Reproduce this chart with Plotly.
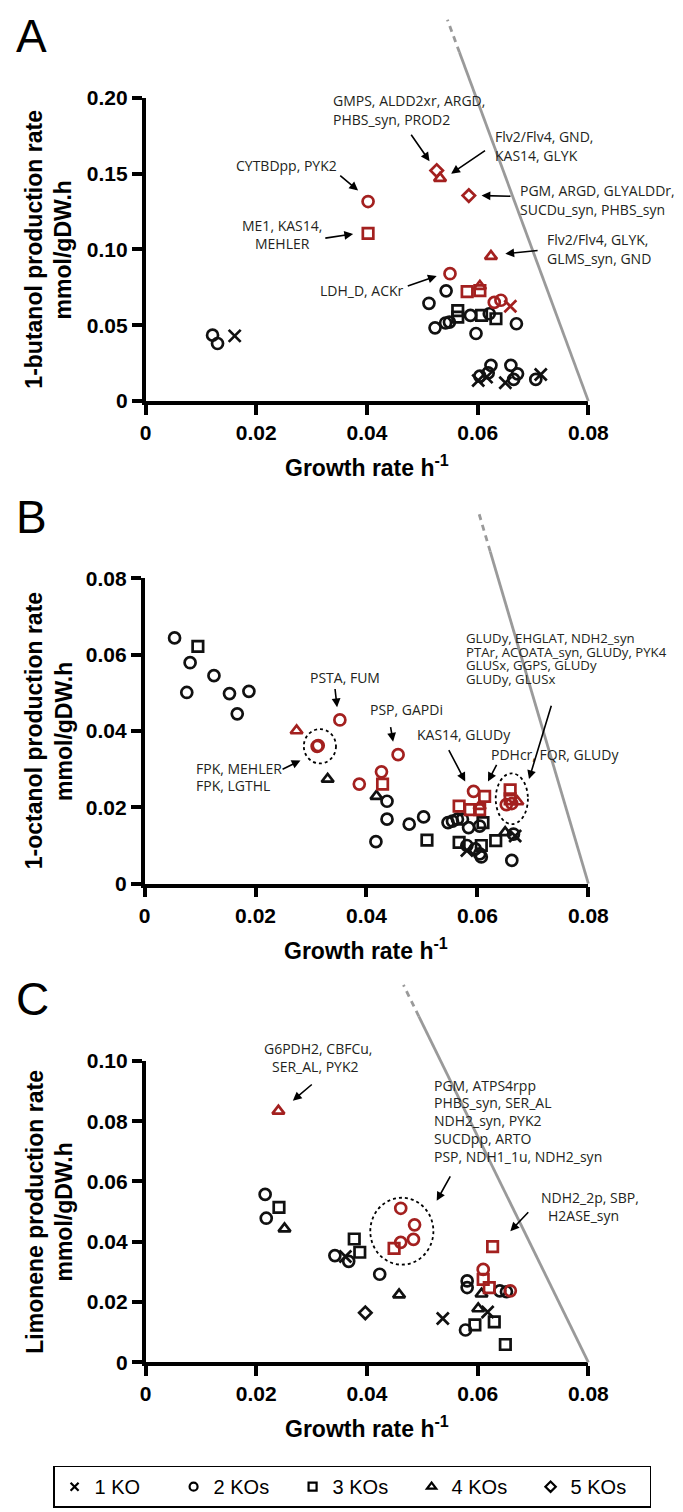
import plotly.graph_objects as go

# ---------------- data ----------------
# Panel A: 1-butanol
butanol_growth = [0.0526, 0.0532, 0.0402, 0.0584, 0.0402, 0.0624, 0.0550, 0.0581, 0.0604, 0.0604, 0.0630, 0.0642, 0.0659,
                  0.0121, 0.0130, 0.0161, 0.0543, 0.0512, 0.0523, 0.0542, 0.0564, 0.0564, 0.0587, 0.0597, 0.0607,
                  0.0621, 0.0633, 0.0670, 0.0624, 0.0660, 0.0619, 0.0604, 0.0601, 0.0672, 0.0665, 0.0650, 0.0705,
                  0.0714, 0.0616, 0.0549]
butanol_rate = [0.152, 0.147, 0.1316, 0.1355, 0.1106, 0.0955, 0.0840, 0.0722, 0.0758, 0.0728, 0.0651, 0.0665, 0.0625,
                0.0435, 0.0380, 0.0430, 0.0727, 0.0645, 0.0483, 0.0515, 0.0597, 0.0554, 0.0565, 0.0446, 0.0565,
                0.0576, 0.0543, 0.0510, 0.0236, 0.0236, 0.0186, 0.0165, 0.0136, 0.0180, 0.0143, 0.0121, 0.0143,
                0.0175, 0.0158, 0.0521]
butanol_kos = [5, 4, 2, 5, 3, 4, 2, 3, 4, 3, 2, 2, 1,
               2, 2, 1, 2, 2, 2, 2, 3, 3, 2, 2, 3,
               2, 3, 2, 2, 2, 2, 2, 1, 2, 2, 1, 2,
               1, 1, 2]
butanol_red = [1] * 13 + [0] * 27

# Panel B: 1-octanol
octanol_growth = [0.0054, 0.0096, 0.0082, 0.0125, 0.0076, 0.0153, 0.0188, 0.0167,
                  0.0330, 0.0418, 0.0437, 0.0437, 0.0417, 0.0477, 0.0503, 0.0509,
                  0.0547, 0.0555, 0.0564, 0.0573, 0.0584, 0.0604, 0.0610,
                  0.0567, 0.0607, 0.0581, 0.0596, 0.0604, 0.0607, 0.0581,
                  0.0633, 0.0650, 0.0665, 0.0668, 0.0662,
                  0.0274, 0.0313, 0.0311, 0.0352, 0.0457, 0.0427, 0.0429, 0.0387,
                  0.0593, 0.0613, 0.0567, 0.0587, 0.0604, 0.0604,
                  0.0659, 0.0659, 0.0652, 0.0662, 0.0672]
octanol_rate = [0.0644, 0.0622, 0.0579, 0.0545, 0.0501, 0.0498, 0.0504, 0.0445,
                0.0274, 0.0229, 0.0216, 0.0169, 0.0110, 0.0156, 0.0175, 0.0114,
                0.0160, 0.0164, 0.0169, 0.0169, 0.0147, 0.0151, 0.0160,
                0.0108, 0.0100, 0.0100, 0.0091, 0.0078, 0.0070, 0.0087,
                0.0113, 0.0134, 0.0130, 0.0125, 0.0061,
                0.0401, 0.0362, 0.0360, 0.0429, 0.0338, 0.0293, 0.0261, 0.0261,
                0.0242, 0.0229, 0.0203, 0.0194, 0.0194, 0.0203,
                0.0246, 0.0222, 0.0207, 0.0210, 0.0215]
octanol_kos = [2, 3, 2, 2, 2, 2, 2, 2,
               4, 4, 2, 2, 2, 2, 2, 3,
               2, 2, 2, 2, 2, 2, 3,
               3, 3, 2, 2, 2, 2, 1,
               3, 4, 2, 1, 2,
               4, 2, 2, 2, 2, 2, 3, 2,
               2, 3, 3, 3, 3, 4,
               3, 3, 2, 2, 4]
octanol_red = [0] * 35 + [1] * 19

# Panel C: limonene
limonene_growth = [0.0240, 0.0461, 0.0486, 0.0484, 0.0461, 0.0449,
                   0.0627, 0.0610, 0.0610, 0.0621, 0.0659,
                   0.0216, 0.0218, 0.0241, 0.0251, 0.0377, 0.0387, 0.0342, 0.0367, 0.0361, 0.0423, 0.0458, 0.0397,
                   0.0581, 0.0581, 0.0640, 0.0652, 0.0607, 0.0601, 0.0618, 0.0537, 0.0578, 0.0595, 0.0630, 0.0650]
limonene_rate = [0.0834, 0.0511, 0.0456, 0.0408, 0.0398, 0.0378,
                 0.0384, 0.0308, 0.0275, 0.0248, 0.0237,
                 0.0557, 0.0478, 0.0514, 0.0443, 0.0409, 0.0365, 0.0354, 0.0335, 0.0351, 0.0292, 0.0224, 0.0164,
                 0.0270, 0.0248, 0.0237, 0.0234, 0.0227, 0.0178, 0.0167, 0.0145, 0.0107, 0.0124, 0.0134, 0.0059]
limonene_kos = [4, 2, 2, 2, 2, 3,
                3, 2, 3, 3, 2,
                2, 2, 3, 4, 3, 3, 2, 2, 1, 2, 4, 5,
                2, 2, 2, 2, 4, 4, 1, 1, 2, 3, 3, 3]
limonene_red = [1] * 11 + [0] * 24

# theoretical limit lines: (growth at zero production, production at zero growth)
limit_growth_max = 0.08
limit_intercepts = {"A": 0.79, "B": 0.3935, "C": 0.2998}

x_ticks = [0, 0.02, 0.04, 0.06, 0.08]
x_ticklabels = ["0", "0.02", "0.04", "0.06", "0.08"]
yA_ticks = [0, 0.05, 0.10, 0.15, 0.20]
yA_labels = ["0", "0.05", "0.10", "0.15", "0.20"]
yB_ticks = [0, 0.02, 0.04, 0.06, 0.08]
yB_labels = ["0", "0.02", "0.04", "0.06", "0.08"]
yC_ticks = [0, 0.02, 0.04, 0.06, 0.08, 0.10]
yC_labels = ["0", "0.02", "0.04", "0.06", "0.08", "0.10"]

ko_names = ["1 KO", "2 KOs", "3 KOs", "4 KOs", "5 KOs"]

# labels (growth, rate, text, anchor, font size)
labels_A = [
    (0.0335, 0.1982, "GMPS, ALDD2xr, ARGD,", "left", 14),
    (0.0335, 0.1859, "PHBS_syn, PROD2", "left", 14),
    (0.0627, 0.1745, "Flv2/Flv4, GND,", "left", 14),
    (0.0627, 0.1621, "KAS14, GLYK", "left", 14),
    (0.0160, 0.1556, "CYTBDpp, PYK2", "left", 14),
    (0.0673, 0.1388, "PGM, ARGD, GLYALDDr,", "left", 14),
    (0.0673, 0.1262, "SUCDu_syn, PHBS_syn", "left", 14),
    (0.0247, 0.1160, "ME1, KAS14,", "center", 14),
    (0.0247, 0.1041, "MEHLER", "center", 14),
    (0.0722, 0.1063, "Flv2/Flv4, GLYK,", "left", 14),
    (0.0722, 0.0940, "GLMS_syn, GND", "left", 14),
    (0.0312, 0.0732, "LDH_D, ACKr", "left", 14),
]
arrows_A = [
    (0.0478, 0.1766, 0.0513, 0.1582),
    (0.0616, 0.1658, 0.0552, 0.1500),
    (0.0349, 0.1495, 0.0384, 0.1388),
    (0.0662, 0.1351, 0.0607, 0.1355),
    (0.0322, 0.1073, 0.0375, 0.1102),
    (0.0711, 0.0994, 0.0650, 0.0972),
    (0.0471, 0.0755, 0.0526, 0.0825),
]
labels_B = [
    (0.0362, 0.0540, "PSTA, FUM", "center", 14),
    (0.0402, 0.0457, "PSP, GAPDi", "left", 14),
    (0.0089, 0.0302, "FPK, MEHLER", "left", 14),
    (0.0089, 0.0256, "FPK, LGTHL", "left", 14),
    (0.0488, 0.0392, "KAS14, GLUDy", "left", 14),
    (0.0620, 0.0339, "PDHcr, FQR, GLUDy", "left", 14),
    (0.0576, 0.0643, "GLUDy, EHGLAT, NDH2_syn", "left", 13.2),
    (0.0576, 0.0607, "PTAr, ACOATA_syn, GLUDy, PYK4", "left", 13.2),
    (0.0576, 0.0573, "GLUSx, GGPS, GLUDy", "left", 13.2),
    (0.0576, 0.0537, "GLUDy, GLUSx", "left", 13.2),
]
arrows_B = [
    (0.0343, 0.0514, 0.0347, 0.0462),
    (0.0443, 0.0414, 0.0448, 0.0372),
    (0.0246, 0.0298, 0.0281, 0.0323),
    (0.0547, 0.0354, 0.0578, 0.0268),
    (0.0636, 0.0315, 0.0619, 0.0268),
    (0.0734, 0.0470, 0.0693, 0.0274),
]
circles_B = [(0.0287, 0.0345, 0.0315, 0.0405), (0.0633, 0.0691, 0.0156, 0.0289)]
labels_C = [
    (0.0312, 0.1040, "G6PDH2, CBFCu,", "center", 14),
    (0.0306, 0.0980, "SER_AL, PYK2", "center", 14),
    (0.0517, 0.0920, "PGM, ATPS4rpp", "left", 14),
    (0.0517, 0.0861, "PHBS_syn, SER_AL", "left", 14),
    (0.0517, 0.0801, "NDH2_syn, PYK2", "left", 14),
    (0.0517, 0.0744, "SUCDpp, ARTO", "left", 14),
    (0.0517, 0.0684, "PSP, NDH1_1u, NDH2_syn", "left", 14),
    (0.0710, 0.0546, "NDH2_2p, SBP,", "left", 14),
    (0.0723, 0.0487, "H2ASE_syn", "left", 14),
]
arrows_C = [
    (0.0303, 0.0926, 0.0266, 0.0868),
    (0.0552, 0.0622, 0.0526, 0.0536),
    (0.0694, 0.0503, 0.0659, 0.0435),
]
circles_C = [(0.0406, 0.0520, 0.0324, 0.0546)]

# ---------------- layout / styling ----------------
W, H = 683, 1512
RED = "#A3201F"
BLACK = "#111111"
GRAY = "#9a9a9a"
SYMBOLS = {1: "x-thin-open", 2: "circle-open", 3: "square-open", 4: "triangle-up-open", 5: "diamond-open"}
SIZES = {1: 12, 2: 11, 3: 10.5, 4: 10.5, 5: 9.5}
AXIS_FONT = "Liberation Sans, Arial, sans-serif"
NOTE_FONT = "Open Sans, sans-serif"

# pixel boxes of the three plot areas (left, right, top, bottom)
panels = {
    "A": dict(ax="", box=(137, 598, 79, 387), yr=[0, 0.20], yt=yA_ticks, yl=yA_labels,
              title="1-butanol production rate",
              data=(butanol_growth, butanol_rate, butanol_kos, butanol_red),
              labels=labels_A, arrows=arrows_A, circles=[], solid_top=0.2300, dash_top=0.2515),
    "B": dict(ax="2", box=(136, 598, 567, 877), yr=[0, 0.08], yt=yB_ticks, yl=yB_labels,
              title="1-octanol production rate",
              data=(octanol_growth, octanol_rate, octanol_kos, octanol_red),
              labels=labels_B, arrows=arrows_B, circles=circles_B, solid_top=0.087, dash_top=0.098),
    "C": dict(ax="3", box=(137, 598, 1057, 1363), yr=[0, 0.10], yt=yC_ticks, yl=yC_labels,
              title="Limonene production rate",
              data=(limonene_growth, limonene_rate, limonene_kos, limonene_red),
              labels=labels_C, arrows=arrows_C, circles=circles_C, solid_top=0.1148, dash_top=0.1252),
}
XR = [0, 0.08]

fig = go.Figure()
shapes, annotations = [], []

for key, p in panels.items():
    a = p["ax"]
    xa, ya = "x" + a, "y" + a
    l, r, t, b = p["box"]
    yr = p["yr"]
    fig.update_layout(**{
        "xaxis" + a: dict(domain=[l / W, r / W], range=XR, anchor=ya, tickvals=x_ticks, ticktext=x_ticklabels,
                          showline=True, linecolor="black", linewidth=3.5, ticks="outside", ticklen=10,
                          tickwidth=3.5, tickcolor="black", showgrid=False, zeroline=False,
                          tickfont=dict(family=AXIS_FONT, size=21, color="black", weight="bold")),
        "yaxis" + a: dict(domain=[1 - b / H, 1 - t / H], range=yr, anchor=xa, tickvals=p["yt"], ticktext=p["yl"],
                          showline=True, linecolor="black", linewidth=3.5, ticks="outside", ticklen=10,
                          tickwidth=3.5, tickcolor="black", showgrid=False, zeroline=False,
                          tickfont=dict(family=AXIS_FONT, size=21, color="black", weight="bold")),
    })
    gx, gy, ko, red = p["data"]
    for hl in (0, 1):
        for k in (1, 2, 3, 4, 5):
            idx = [i for i in range(len(gx)) if ko[i] == k and red[i] == hl]
            if not idx:
                continue
            col = RED if hl else BLACK
            fig.add_trace(go.Scatter(
                x=[gx[i] for i in idx], y=[gy[i] for i in idx], xaxis=xa, yaxis=ya, mode="markers",
                marker=dict(symbol=SYMBOLS[k], size=SIZES[k], color=col, line=dict(color=col, width=2.7)),
                showlegend=False, cliponaxis=False, hoverinfo="skip"))

    def dx(v):
        return (v - XR[0]) / (XR[1] - XR[0])

    def dy(v, yr=yr):
        return (v - yr[0]) / (yr[1] - yr[0])

    xd, yd = xa + " domain", ya + " domain"
    # limit line (solid part and dashed extension)
    y0i = limit_intercepts[key]

    def lim_x(yv):
        return limit_growth_max * (1 - yv / y0i)

    shapes.append(dict(type="line", xref=xd, yref=yd, x0=dx(lim_x(0)), y0=dy(0),
                       x1=dx(lim_x(p["solid_top"])), y1=dy(p["solid_top"]),
                       line=dict(color=GRAY, width=2.8)))
    shapes.append(dict(type="line", xref=xd, yref=yd, x0=dx(lim_x(p["solid_top"])), y0=dy(p["solid_top"]),
                       x1=dx(lim_x(p["dash_top"])), y1=dy(p["dash_top"]),
                       line=dict(color=GRAY, width=2.8, dash="6px,5px")))
    for (cx0, cx1, cy0, cy1) in p["circles"]:
        shapes.append(dict(type="circle", xref=xd, yref=yd, x0=dx(cx0), x1=dx(cx1), y0=dy(cy0), y1=dy(cy1),
                           line=dict(color="black", width=1.8, dash="dot")))
    for (lx, ly, txt, anc, fs) in p["labels"]:
        annotations.append(dict(xref=xd, yref=yd, x=dx(lx), y=dy(ly), text=txt, showarrow=False,
                                xanchor=anc, yanchor="middle",
                                font=dict(family=NOTE_FONT, size=fs, color="#231f20")))
    for (tx, ty, hx, hy) in p["arrows"]:
        annotations.append(dict(xref=xd, yref=yd, axref=xd, ayref=yd, x=dx(hx), y=dy(hy), ax=dx(tx), ay=dy(ty),
                                text="", showarrow=True, arrowhead=2, arrowsize=1.1, arrowwidth=1.6,
                                arrowcolor="black", standoff=0, startstandoff=0))
    # axis titles
    ymid = 1 - (t + b) / 2 / H
    annotations.append(dict(xref="paper", yref="paper", x=21 / W, y=ymid, text=p["title"], textangle=-90,
                            showarrow=False, xanchor="center", yanchor="middle",
                            font=dict(family=AXIS_FONT, size=23, color="black", weight="bold")))
    annotations.append(dict(xref="paper", yref="paper", x=52 / W, y=ymid, text="mmol/gDW.h", textangle=-90,
                            showarrow=False, xanchor="center", yanchor="middle",
                            font=dict(family=AXIS_FONT, size=23, color="black", weight="bold")))
    annotations.append(dict(xref="paper", yref="paper", x=(l + r) / 2 / W, y=1 - (b + 66) / H,
                            text="Growth rate h<sup>-1</sup>", showarrow=False, xanchor="center", yanchor="middle",
                            font=dict(family=AXIS_FONT, size=23, color="black", weight="bold")))
    annotations.append(dict(xref="paper", yref="paper", x=0, y=1 - (t - 79 - 12) / H, text=key, showarrow=False,
                            xanchor="left", yanchor="top",
                            font=dict(family=AXIS_FONT, size=46, color="black")))

# legend entries
for k, name in zip((1, 2, 3, 4, 5), ko_names):
    fig.add_trace(go.Scatter(x=[None], y=[None], mode="markers", name=name,
                             marker=dict(symbol=SYMBOLS[k], size=8, color="black", line=dict(color="black", width=2.2)),
                             showlegend=True))

fig.update_layout(
    width=W, height=H, autosize=False, margin=dict(l=0, r=0, t=0, b=0),
    paper_bgcolor="white", plot_bgcolor="white",
    shapes=shapes, annotations=annotations,
    legend=dict(orientation="h", x=352 / W, xanchor="center", y=1 - 1468 / H, yanchor="top",
                bordercolor="black", borderwidth=1.5, bgcolor="white",
                font=dict(family="Liberation Sans Narrow, Liberation Sans, Arial", size=20, color="black"),
                entrywidth=74, entrywidthmode="pixels", itemwidth=30),
)

fig.write_html("out.html")
